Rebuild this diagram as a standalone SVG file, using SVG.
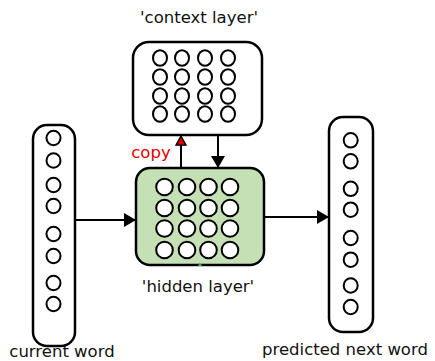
<svg xmlns="http://www.w3.org/2000/svg" width="435" height="361" viewBox="0 0 435 361">
<defs>
<style>
.box{fill:#fff;stroke:#000;stroke-width:2.5}
.hid{fill:#c5e0b4;stroke:#000;stroke-width:2.5}
.n{fill:#fff;stroke:#000;stroke-width:2}
.c{stroke:#000;stroke-width:2;fill:none}
.t{font-family:"DejaVu Sans","Liberation Sans",sans-serif;font-size:16.5px;fill:#111}
</style>
<marker id="ah" viewBox="0 0 12 14" refX="12" refY="7" markerWidth="6" markerHeight="7" orient="auto" markerUnits="strokeWidth"><path d="M0,0 L12,7 L0,14 z" fill="#000"/></marker>
<marker id="ahr" viewBox="0 0 12 13" refX="11" refY="6.5" markerWidth="5.5" markerHeight="6" orient="auto" markerUnits="strokeWidth"><path d="M1,1 L11,6.5 L1,12 z" fill="#e00000" stroke="#000" stroke-width="1.5"/></marker>
</defs>
<g id="connectors">
<line class="c" x1="75" y1="220" x2="136" y2="220" marker-end="url(#ah)"/>
<line class="c" x1="264" y1="217" x2="329" y2="217" marker-end="url(#ah)"/>
<line class="c" x1="181" y1="168" x2="181" y2="136" marker-end="url(#ahr)"/>
<line class="c" x1="218" y1="135" x2="218" y2="168" marker-end="url(#ah)"/>
</g>
<g id="context">
<rect class="box" x="133" y="42" width="129" height="93" rx="16"/>
<g class="n">
<ellipse cx="160" cy="58" rx="7" ry="7.8"/><ellipse cx="182" cy="58" rx="7" ry="7.8"/><ellipse cx="205" cy="58" rx="7" ry="7.8"/><ellipse cx="228" cy="58" rx="7" ry="7.8"/>
<ellipse cx="160" cy="77" rx="7" ry="7.8"/><ellipse cx="182" cy="77" rx="7" ry="7.8"/><ellipse cx="205" cy="77" rx="7" ry="7.8"/><ellipse cx="228" cy="77" rx="7" ry="7.8"/>
<ellipse cx="160" cy="96" rx="7" ry="7.8"/><ellipse cx="182" cy="96" rx="7" ry="7.8"/><ellipse cx="205" cy="96" rx="7" ry="7.8"/><ellipse cx="228" cy="96" rx="7" ry="7.8"/>
<ellipse cx="160" cy="114" rx="7" ry="7.8"/><ellipse cx="182" cy="114" rx="7" ry="7.8"/><ellipse cx="205" cy="114" rx="7" ry="7.8"/><ellipse cx="228" cy="114" rx="7" ry="7.8"/>
</g>
<text class="t" x="199" y="23" text-anchor="middle">'context layer'</text>
</g>
<g id="hidden">
<rect class="hid" x="136" y="168" width="128" height="97" rx="14"/>
<g class="n">
<circle cx="164.5" cy="187" r="8.3"/><circle cx="187" cy="187" r="8.3"/><circle cx="208.5" cy="187" r="8.3"/><circle cx="230" cy="187" r="8.3"/>
<circle cx="164.5" cy="208" r="8.3"/><circle cx="187" cy="208" r="8.3"/><circle cx="208.5" cy="208" r="8.3"/><circle cx="230" cy="208" r="8.3"/>
<circle cx="164.5" cy="228.5" r="8.3"/><circle cx="187" cy="228.5" r="8.3"/><circle cx="208.5" cy="228.5" r="8.3"/><circle cx="230" cy="228.5" r="8.3"/>
<circle cx="164.5" cy="250" r="8.3"/><circle cx="187" cy="250" r="8.3"/><circle cx="208.5" cy="250" r="8.3"/><circle cx="230" cy="250" r="8.3"/>
</g>
<path d="M198,266 L200,262.5 L202,266 z" fill="#4caf50"/>
<text class="t" x="198" y="292" text-anchor="middle">'hidden layer'</text>
</g>
<g id="copy-label">
<text class="t" x="151" y="158" text-anchor="middle" style="fill:#e00000">copy</text>
</g>
<g id="current">
<rect class="box" x="33" y="125" width="42" height="221" rx="14"/>
<g class="n">
<ellipse cx="53.5" cy="138" rx="7" ry="7.3"/><ellipse cx="53.5" cy="160.5" rx="7" ry="7.3"/><ellipse cx="53.5" cy="185" rx="7" ry="7.3"/><ellipse cx="53.5" cy="206" rx="7" ry="7.3"/>
<ellipse cx="53.5" cy="234" rx="7" ry="7.3"/><ellipse cx="53.5" cy="256" rx="7" ry="7.3"/><ellipse cx="53.5" cy="283" rx="7" ry="7.3"/><ellipse cx="53.5" cy="304" rx="7" ry="7.3"/>
</g>
<text class="t" x="62" y="357" text-anchor="middle">current word</text>
</g>
<g id="predicted">
<rect class="box" x="329" y="117" width="44" height="215" rx="14"/>
<g class="n">
<ellipse cx="350.7" cy="140.3" rx="7" ry="7.3"/><ellipse cx="350.7" cy="161.3" rx="7" ry="7.3"/><ellipse cx="350.7" cy="188.8" rx="7" ry="7.3"/><ellipse cx="350.7" cy="209.7" rx="7" ry="7.3"/>
<ellipse cx="350.7" cy="238" rx="7" ry="7.3"/><ellipse cx="350.7" cy="259.7" rx="7" ry="7.3"/><ellipse cx="350.7" cy="285.5" rx="7" ry="7.3"/><ellipse cx="350.7" cy="307" rx="7" ry="7.3"/>
</g>
<text class="t" x="345" y="355" text-anchor="middle">predicted next word</text>
</g>
</svg>
